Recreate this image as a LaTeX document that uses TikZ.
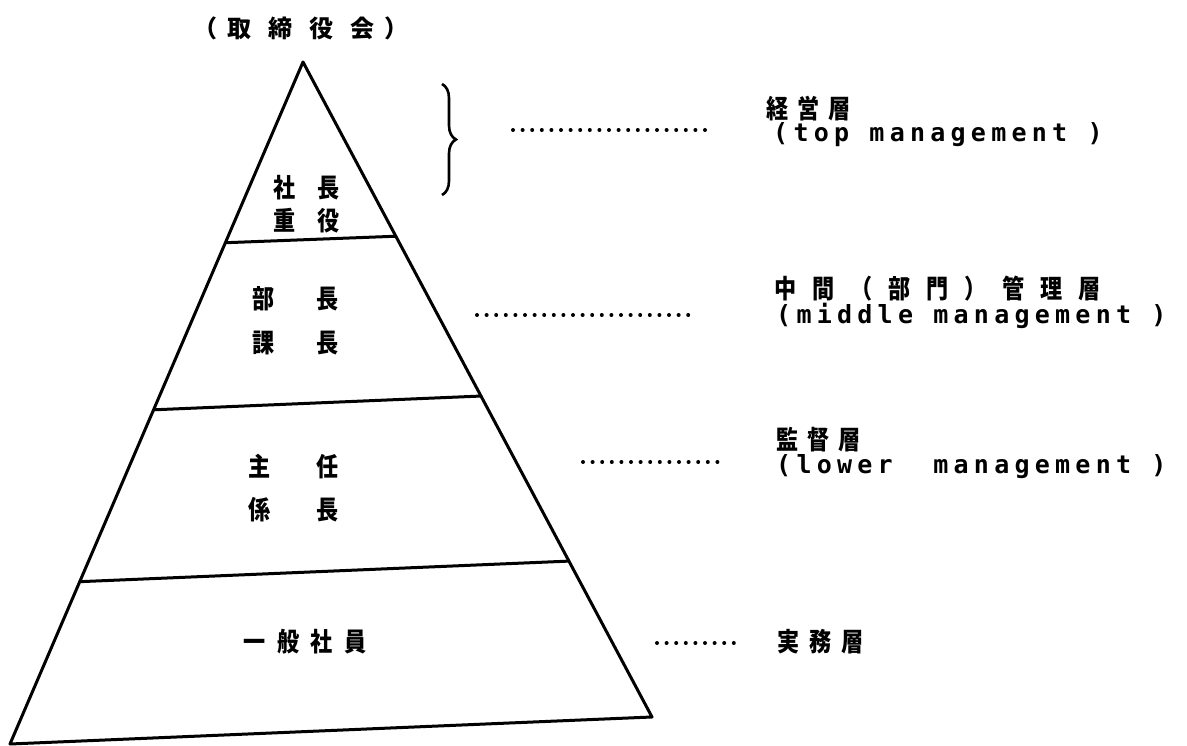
\documentclass[tikz,border=0pt]{standalone}
\usepackage{fontspec}
\newfontfamily\jp[FakeStretch=0.85]{Noto Sans CJK JP}
\newfontfamily\jpw{Noto Sans CJK JP}
\newfontfamily\lat[LetterSpace=21]{DejaVu Sans Mono}
\usetikzlibrary{calc,decorations.pathreplacing}
\newcommand\g[1]{\hspace{#1pt}}
\tikzset{
  edge/.style={line width=3pt, line join=round, line cap=round},
  jtext/.style={font=\jp\bfseries\fontsize{26}{30}\selectfont, inner sep=0pt},
  jtitle/.style={font=\jpw\bfseries\fontsize{24}{28}\selectfont, inner sep=0pt},
  jlabel/.style={jtext, anchor=west},
  elabel/.style={font=\lat\bfseries\fontsize{25}{29}\selectfont, inner sep=0pt, anchor=west},
  leader/.style={line width=4pt, line cap=round, dash pattern=on 0pt off 9.6pt},
  bracestyle/.style={line width=2.6pt, decorate, decoration={brace, amplitude=14pt}},
}
\begin{document}
\begin{tikzpicture}[x=1pt,y=-1pt]
\useasboundingbox (0,0) rectangle (1187,746);
% pyramid
\coordinate (A) at (303,62);
\coordinate (BL) at (10,744);
\coordinate (BR) at (652,717);
\coordinate (L1) at ($(A)!0.265!(BL)$);
\coordinate (R1) at ($(A)!0.266!(BR)$);
\coordinate (L2) at ($(A)!0.510!(BL)$);
\coordinate (R2) at ($(A)!0.510!(BR)$);
\coordinate (L3) at ($(A)!0.762!(BL)$);
\coordinate (R3) at ($(A)!0.762!(BR)$);
\draw[edge] (BL) -- (A) -- (BR) -- cycle;
\draw[edge] (L1) -- (R1);
\draw[edge] (L2) -- (R2);
\draw[edge] (L3) -- (R3);

% title
\node[jtitle] (title) at (301,28) {（\g{10}取\g{17}締\g{17}役\g{17}会\g{10}）};

% texts inside the pyramid
\node[jtext] (t1a) at (307,188) {社\g{22}長};
\node[jtext] (t1b) at (307,221) {重\g{22}役};
\node[jtext] (t2a) at (296,299) {部\g{42}長};
\node[jtext] (t2b) at (296,343) {課\g{42}長};
\node[jtext] (t3a) at (294,467) {主\g{46}任};
\node[jtext] (t3b) at (294,510) {係\g{46}長};
\node[jtext] (t4) at (305,642) {一\g{11.7}般\g{11.7}社\g{11.7}員};

% brace
\coordinate (bt) at (442,84);
\coordinate (bb) at (442,195);
\draw[bracestyle] (bt) -- (bb);

% labels on the right
\node[jlabel] (l1) at (766,109) {経\g{9}営\g{9}層};
\node[elabel] (e1) at (773,135) {(top management )};
\node[jlabel] (l2) at (774,289) {中\g{16}間\g{16}（\g{16}部\g{16}門\g{16}）\g{16}管\g{16}理\g{16}層};
\node[elabel] (e2) at (776,316) {(middle management )};
\node[jlabel] (l3) at (776,440) {監\g{9}督\g{9}層};
\node[elabel] (e3) at (776,467) {(lower\ \ management )};
\node[jlabel] (l4) at (777,642) {実\g{10}務\g{10}層};

% dotted leaders
\coordinate (d1s) at (513,130); \coordinate (d1e) at (705,130);
\coordinate (d2s) at (477,315); \coordinate (d2e) at (697,315);
\coordinate (d3s) at (583,462); \coordinate (d3e) at (720,462);
\coordinate (d4s) at (657,643); \coordinate (d4e) at (740,643);
\draw[leader] (d1s) -- (d1e);
\draw[leader] (d2s) -- (d2e);
\draw[leader] (d3s) -- (d3e);
\draw[leader] (d4s) -- (d4e);
\end{tikzpicture}
\end{document}
